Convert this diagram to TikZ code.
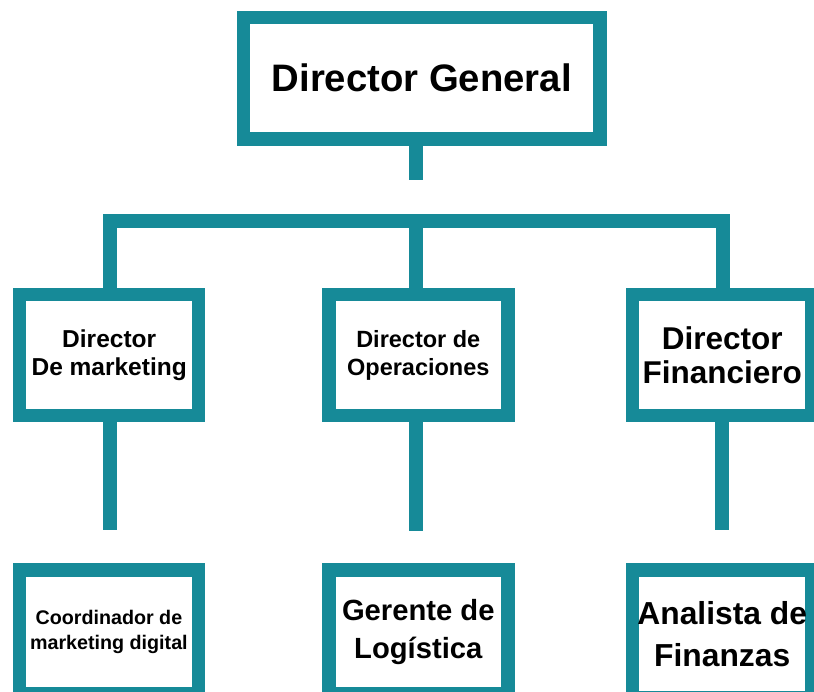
\documentclass[tikz,border=0pt]{standalone}
\usepackage{fontspec}
\setmainfont{Liberation Sans}
\definecolor{teal1}{RGB}{22,138,152}
\begin{document}
\begin{tikzpicture}[x=1pt,y=-1pt,
  orgbox/.style={draw=teal1, line width=13.5pt, fill=white, rectangle,
    minimum width=179pt, minimum height=121pt, inner sep=0pt, outer sep=0pt,
    align=center, text=black},
  link/.style={draw=teal1, line width=14pt, line cap=butt, line join=miter}]
\useasboundingbox (0,0) rectangle (814,691);
\fill[white] (0,0) rectangle (814,691);
% top box
\node[orgbox, minimum width=356.3pt, minimum height=121.7pt,
  font=\fontsize{38.3}{44}\selectfont\bfseries] (dg) at (421.8,78.2) {Director General};
% second row
\node[orgbox, font=\fontsize{24.5}{28}\selectfont\bfseries] (dm) at (109.2,355.2) {Director\\De marketing};
\node[orgbox, font=\fontsize{23.5}{28}\selectfont\bfseries] (dop) at (418.3,355.2) {Director de\\Operaciones};
\node[orgbox, font=\fontsize{31.5}{34}\selectfont\bfseries] (df) at (722.2,355.2) {Director\\Financiero};
% third row
\node[orgbox, minimum height=124pt, font=\fontsize{19.7}{25}\selectfont\bfseries] (cm) at (108.9,632) {Coordinador de\\marketing digital};
\node[orgbox, minimum height=124pt, font=\fontsize{29.2}{38.3}\selectfont\bfseries] (gl) at (418.3,632) {Gerente de\\Logística};
\node[orgbox, minimum height=128pt, font=\fontsize{31.8}{41.7}\selectfont\bfseries] (af) at (722.2,634) {Analista de\\Finanzas};
% connector coordinates
\coordinate (dgstub) at (415.5,180);
\coordinate (barL) at (109.8,221);
\coordinate (barM) at (416.3,221);
\coordinate (barR) at (722.7,221);
\coordinate (s1) at (109.6,530);
\coordinate (s2) at (416,531);
\coordinate (s3) at (722.3,530);
% connectors
\draw[link] (dg.south -| dgstub) -- (dgstub);
\draw[link] (dm.north -| barL) -- (barL) -- (barR) -- (df.north -| barR);
\draw[link] (barM) -- (dop.north -| barM);
\draw[link] (dm.south -| s1) -- (s1);
\draw[link] (dop.south -| s2) -- (s2);
\draw[link] (df.south -| s3) -- (s3);
\end{tikzpicture}
\end{document}
